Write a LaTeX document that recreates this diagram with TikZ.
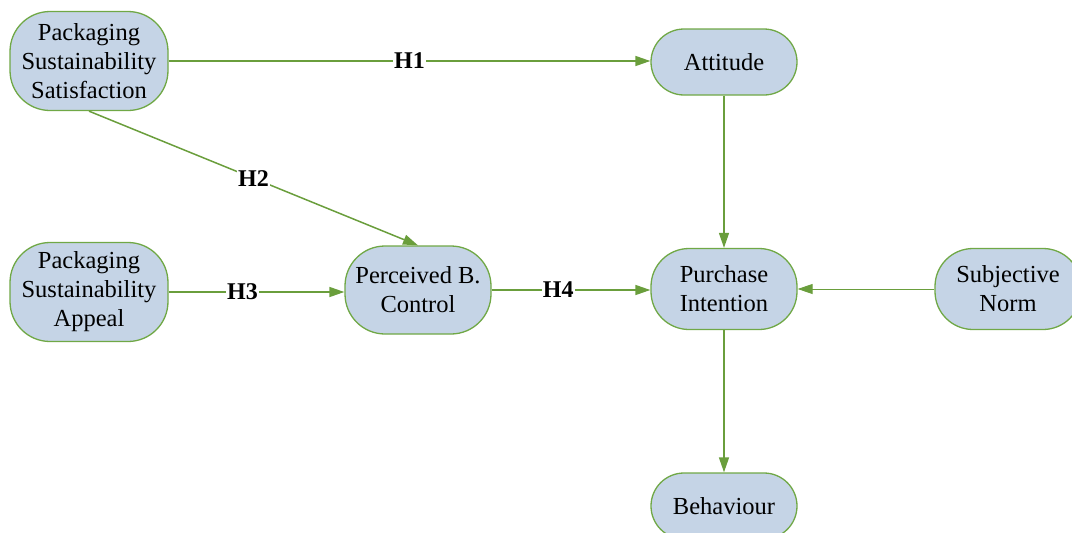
\documentclass[tikz,border=0pt]{standalone}
\usepackage{fontspec}
\setmainfont{Liberation Serif}
\usetikzlibrary{arrows.meta,positioning}
\colorlet{boxFill}{rgb,255:red,197;green,212;blue,230}
\colorlet{penColor}{rgb,255:red,112;green,168;blue,70}
\colorlet{arrColor}{rgb,255:red,106;green,158;blue,60}
\tikzset{>={Triangle[length=15pt,width=10pt]}}
\tikzset{
  box/.style={draw=penColor,line width=1.3pt,fill=boxFill,rounded corners=33pt,
    minimum width=146pt,minimum height=66pt,align=center,inner sep=2pt,
    font=\fontsize{24.5}{29}\selectfont},
  arr/.style={->,draw=arrColor,line width=1.5pt},
  hlab/.style={fill=white,inner sep=1pt,font=\fontsize{24}{28}\selectfont\bfseries}
}

\begin{document}
\begin{tikzpicture}[x=1pt,y=-1pt]
      \useasboundingbox (0,0) rectangle (1072,533);
      \node [box,minimum width=158pt,minimum height=99pt,rounded corners=40pt] (sat) at (89,61) {Packaging\\Sustainability\\Satisfaction};
      \node [box,minimum width=158pt,minimum height=99pt,rounded corners=40pt] (app) at (89,292) {Packaging\\Sustainability\\Appeal};
      \node [box] (att) at (724,62) {Attitude};
      \node [box,minimum height=88pt,rounded corners=40pt] (pbc) at (418,290) {Perceived B.\\Control};
      \node [box,minimum height=81pt,rounded corners=38pt] (pi) at (724,289) {Purchase\\Intention};
      \node [box,minimum height=81pt,rounded corners=38pt] (sn) at (1008,289) {Subjective\\Norm};
      \node [box] (beh) at (724,506) {Behaviour};
      \draw [arr] (sat.east) -- node [hlab] {H1} (sat.east -| att.west);
      \draw [arr] (sat.south) -- node [hlab] {H2} (pbc.north);
      \draw [arr] (app.east) -- node [hlab,pos=.42] {H3} (app.east -| pbc.west);
      \draw [arr] (pbc.east) -- node [hlab,pos=.42] {H4} (pbc.east -| pi.west);
      \draw [arr] (att) -- (pi);
      \draw [arr,line width=1pt] (sn) -- (pi);
      \draw [arr] (pi) -- (beh);
    \end{tikzpicture}
\end{document}
